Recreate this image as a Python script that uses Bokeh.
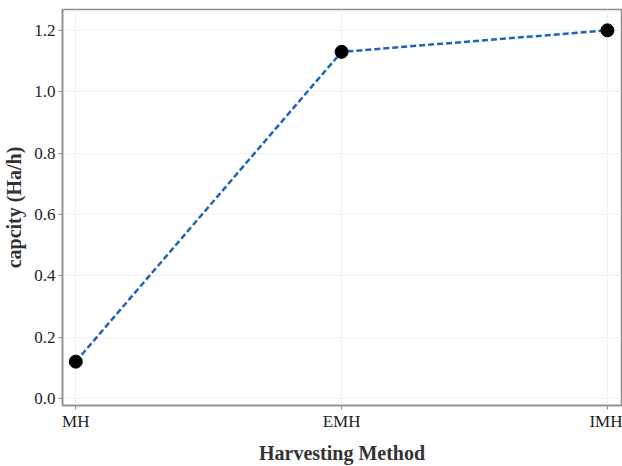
from bokeh.plotting import figure
from bokeh.models import Range1d, FixedTicker, ColumnDataSource
from bokeh.embed import file_html
from bokeh.resources import INLINE

categories = ["MH", "EMH", "IMH"]
capacity = [0.12, 1.13, 1.20]
y_ticks = [0.0, 0.2, 0.4, 0.6, 0.8, 1.0, 1.2]

xs = list(range(1, len(categories) + 1))
src = ColumnDataSource(dict(x=xs, y=capacity))

p = figure(width=622, height=466, output_backend="svg", toolbar_location=None,
           x_range=Range1d(0.95, 3.053), y_range=Range1d(-0.023, 1.268),
           min_border_left=55, min_border_right=1, min_border_top=9, min_border_bottom=55)
p.background_fill_color = "white"
p.outline_line_color = "#8c8c8c"
p.outline_line_width = 1.5

p.line("x", "y", source=src, line_color="#1f63b8", line_width=2.5, line_dash="6 3")
p.scatter("x", "y", source=src, size=13, color="black")

p.xaxis.ticker = FixedTicker(ticks=xs)
p.xaxis.major_label_overrides = {x: c for x, c in zip(xs, categories)}
p.yaxis.ticker = FixedTicker(ticks=y_ticks)
p.yaxis.major_label_overrides = {t: f"{t:.1f}" for t in y_ticks}

for ax in (p.xaxis[0], p.yaxis[0]):
    ax.axis_line_color = "#8c8c8c"
    ax.axis_line_width = 1.5
    ax.major_tick_line_color = "#8c8c8c"
    ax.major_tick_in = 0
    ax.major_tick_out = 4
    ax.minor_tick_line_color = None
    ax.major_label_text_font = "Liberation Serif"
    ax.major_label_text_font_size = "17px"
    ax.major_label_text_color = "#222222"
    ax.axis_label_text_font = "Liberation Serif"
    ax.axis_label_text_font_size = "20px"
    ax.axis_label_text_font_style = "bold"
    ax.axis_label_text_color = "#333333"

p.xaxis.axis_label = "Harvesting Method"
p.yaxis.axis_label = "capcity (Ha/h)"
p.xaxis.axis_label_standoff = 8
p.yaxis.axis_label_standoff = 6
p.xaxis.major_label_standoff = 2
p.yaxis.major_label_standoff = 3

p.xgrid.grid_line_color = "#f0f0f0"
p.ygrid.grid_line_color = "#f0f0f0"
p.xgrid.ticker = FixedTicker(ticks=xs)
p.ygrid.ticker = FixedTicker(ticks=y_ticks)

open("out.html", "w").write(file_html(p, INLINE))
